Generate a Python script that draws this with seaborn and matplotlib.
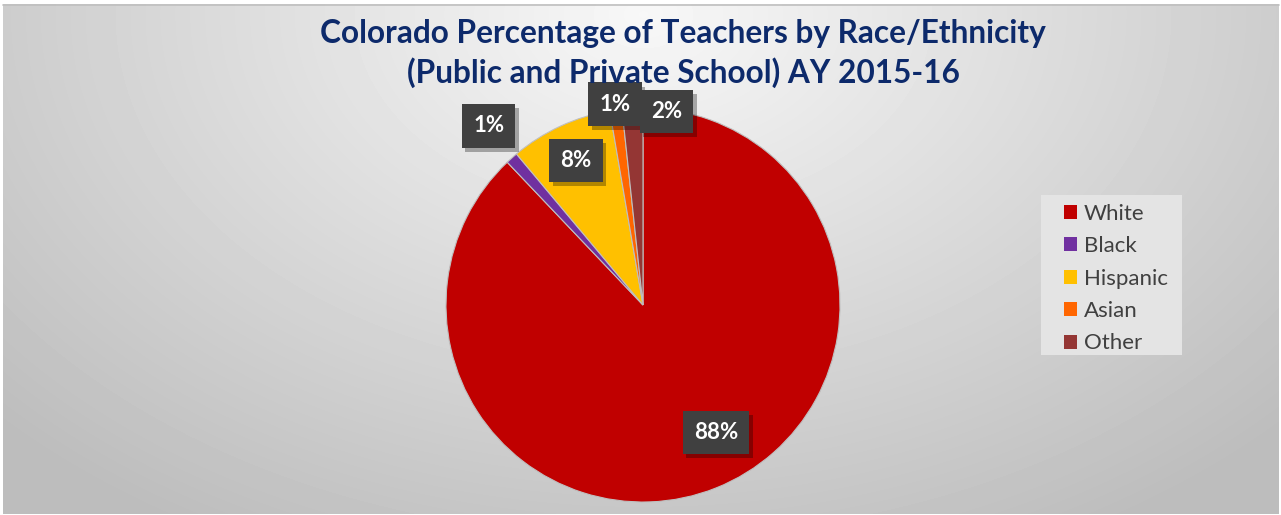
import numpy as np
import matplotlib
matplotlib.use("Agg")
import matplotlib.pyplot as plt
import matplotlib.patheffects as pe
import seaborn as sns

# data
groups = ["White", "Black", "Hispanic", "Asian", "Other"]
shares = [87.9, 1.0, 8.4, 1.0, 1.7]
label_text = ["88%", "1%", "8%", "1%", "2%"]
colors = ["#c00000", "#7030a0", "#ffc000", "#ff6600", "#943634"]

# where each data label sits: radius (fraction of pie radius) and angle shift (deg)
label_r = [0.745, 1.2, 0.81, 1.03, 0.99]
label_shift = [-8, 1, 0, 0, 10]

sns.set_theme(style="white")
plt.rcParams["font.family"] = ["Lato", "DejaVu Sans"]

W, H = 1281, 515
fig = plt.figure(figsize=(W / 100, H / 100), dpi=100)
fig.patch.set_facecolor("white")

# radial grey gradient background of the chart area
bg = fig.add_axes([3 / W, 1 / H, 1276 / W, 510 / H])
yy, xx = np.mgrid[0:510, 0:1276]
d = np.sqrt(((xx - 640) / 880.0) ** 2 + ((yy - 10) / 600.0) ** 2)
d = np.clip(d, 0, 1)
grad = 0.97 - 0.23 * d
bg.imshow(grad, cmap="gray", vmin=0, vmax=1, aspect="auto", interpolation="bilinear")
bg.set_axis_off()
fig.add_artist(plt.Line2D([3 / W, 1279 / W], [1 - 4.5 / H, 1 - 4.5 / H], color="#bfbfbf", lw=1.2))

# pie axes: centre (643, 305), radius 197 px
cx, cy, r = 643, 305, 197
ax = fig.add_axes([(cx - r) / W, (H - cy - r) / H, 2 * r / W, 2 * r / H])
ax.set_facecolor("none")
wedges, _ = ax.pie(shares, colors=colors, startangle=90, counterclock=False,
                   radius=1, wedgeprops=dict(linewidth=0.8, edgecolor="#bfbfbf"))
ax.set_xlim(-1, 1)
ax.set_ylim(-1, 1)
ax.set_axis_off()

for w, txt, rr, sh in zip(wedges, label_text, label_r, label_shift):
    mid = np.deg2rad((w.theta1 + w.theta2) / 2 - sh)
    x, y = rr * np.cos(mid), rr * np.sin(mid)
    t = ax.text(x, y, txt, ha="center", va="center", color="white", fontsize=16,
                fontweight="bold", clip_on=False,
                bbox=dict(boxstyle="square,pad=0.5", fc="#404040", ec="none"))
    t.get_bbox_patch().set_path_effects(
        [pe.SimplePatchShadow(offset=(2.5, -3), shadow_rgbFace="black", alpha=0.3),
         pe.Normal()])

# title
fig.text(683 / W, 1 - 33 / H, "Colorado Percentage of Teachers by Race/Ethnicity",
         ha="center", va="center", fontsize=22.8, fontweight="bold", color="#0d2a6b")
fig.text(683 / W, 1 - 73 / H, "(Public and Private School) AY 2015-16",
         ha="center", va="center", fontsize=22.8, fontweight="bold", color="#0d2a6b")

# legend box drawn separately, legend entries placed inside it
fig.add_artist(plt.Rectangle((1041 / W, 1 - 355 / H), 141 / W, 160 / H,
                             transform=fig.transFigure, fc="#e4e4e4", ec="none"))
handles = [plt.Rectangle((0, 0), 1, 1, fc=c, ec="none") for c in colors]
leg = fig.legend(handles, groups, loc="upper left",
                 bbox_to_anchor=(1057 / W, 1 - 197 / H), borderaxespad=0,
                 frameon=False, fontsize=16, handlelength=0.6, handleheight=0.6,
                 handletextpad=0.3, labelspacing=0.56, borderpad=0.3)
for t in leg.get_texts():
    t.set_color("#404040")

fig.savefig("out.png", dpi=100)
